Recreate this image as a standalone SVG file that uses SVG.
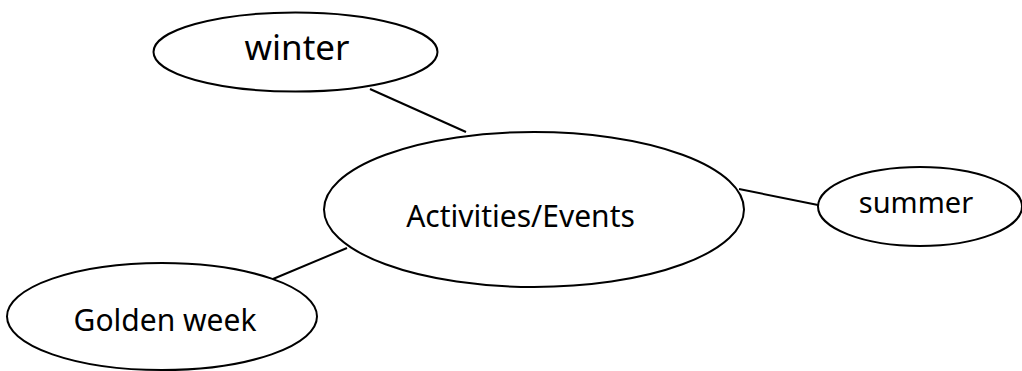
<svg xmlns="http://www.w3.org/2000/svg" width="1022" height="371" viewBox="0 0 1022 371">
<style>
.node ellipse{fill:#fff;stroke:#000;stroke-width:2}
.node text{font-family:"Noto Sans","DejaVu Sans",sans-serif;fill:#000;text-anchor:middle}
.edges line{stroke:#000;stroke-width:2}
</style>
<rect width="1022" height="371" fill="#fff"/>
<g class="edges" id="connectors">
<line x1="370" y1="89" x2="466" y2="132"/>
<line x1="739" y1="189" x2="818" y2="205"/>
<line x1="273" y1="279" x2="347" y2="248"/>
</g>
<g class="node" id="winter">
<ellipse cx="295.5" cy="52" rx="142" ry="39.5"/>
<text x="297" y="60" font-size="35">winter</text>
</g>
<g class="node" id="activities">
<ellipse cx="534" cy="209.5" rx="210" ry="77.5"/>
<text x="520.5" y="227" font-size="30">Activities/Events</text>
</g>
<g class="node" id="summer">
<ellipse cx="920" cy="206.5" rx="102" ry="39.5"/>
<text x="916" y="213" font-size="29">summer</text>
</g>
<g class="node" id="golden">
<ellipse cx="162" cy="316.5" rx="155" ry="53.5"/>
<text x="165" y="331" font-size="30">Golden week</text>
</g>
</svg>
